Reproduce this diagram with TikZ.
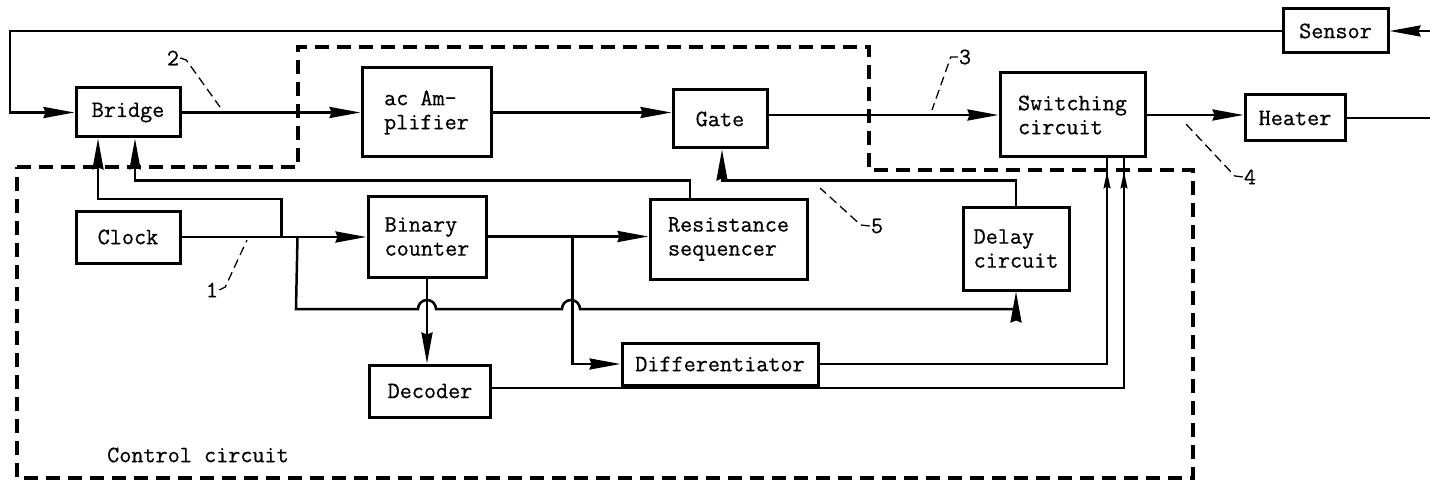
\documentclass[tikz,border=0pt]{standalone}
\usepackage{fontspec}
\newfontfamily\tw{Latin Modern Mono}[FakeBold=0.6]
\usetikzlibrary{arrows.meta,calc,decorations.markings}
\begin{document}
\begin{tikzpicture}[x=1pt,y=-1pt,
  blk/.style={draw,line width=3pt,inner sep=0pt,align=left,font=\tw\fontsize{23.5}{24}\selectfont},
  conn/.style={line width=2.5pt},
  arr/.style={conn,-{Stealth[length=31pt,width=11pt,inset=2pt]}},
  arrthin/.style={line width=1.6pt,postaction={decorate,decoration={markings,
      mark=at position -13pt with {\arrow{Stealth[length=17pt,width=7pt,inset=2pt]}}}}},
  bound/.style={line width=3.4pt,dash pattern=on 14pt off 8pt},
  lead/.style={line width=1.3pt,dash pattern=on 9pt off 5pt},
  lbl/.style={inner sep=1pt,font=\tw\fontsize{23.5}{24}\selectfont}]
\fill[white] (0,0) rectangle (1430,484);
\useasboundingbox (0,0) rectangle (1430,484);

% boundary
\draw[bound] (17,167) -- (298,167) -- (298,47) -- (869,47) -- (869,170) -- (1193,170) -- (1193,478) -- (17,478) -- cycle;
\node[lbl] (cc) at (198,455) {Control circuit};

% blocks
\node[blk,minimum width=104,minimum height=49] (bridge) at (128,112.5) {Bridge};
\node[blk,minimum width=129,minimum height=89] (amp) at (426.5,112.5) {ac Am-\\plifier};
\node[blk,minimum width=94,minimum height=58] (gate) at (720,119) {Gate};
\node[blk,minimum width=145,minimum height=84] (sw) at (1072.5,115) {Switching\\circuit};
\node[blk,minimum width=100,minimum height=46] (heater) at (1295,118) {Heater};
\node[blk,minimum width=105,minimum height=44] (sensor) at (1335.5,31) {Sensor};
\node[blk,minimum width=104,minimum height=52] (clock) at (128,237) {Clock};
\node[blk,minimum width=118,minimum height=81] (bin) at (427,236.5) {Binary\\counter};
\node[blk,minimum width=157,minimum height=80] (res) at (728.5,239) {Resistance\\sequencer};
\node[blk,minimum width=106,minimum height=83] (delay) at (1016,248.5) {Delay\\circuit};
\node[blk,minimum width=196,minimum height=42] (diff) at (720,364) {Differentiator};
\node[blk,minimum width=121,minimum height=52] (dec) at (430,391) {Decoder};

% free ends and junctions
\coordinate (sin) at (1430,31);
\coordinate (hout) at (1430,118);
\coordinate (fbk) at (10,31);
\coordinate (j1) at ([xshift=100]clock.east);
\coordinate (j2) at ([xshift=116]clock.east);
\coordinate (j3) at ([xshift=85]bin.east);

% main signal path
\draw[arr] (sin) -- (sensor.east);
\draw[arr] (sensor.west) -- (fbk) |- (bridge.west);
\draw[arr] (bridge.east) -- (amp.west);
\draw[arr] (amp.east) -- (amp.east -| gate.west);
\draw[arr] (gate.east |- sw.west) -- (sw.west);
\draw[arr] (sw.east) -- (sw.east -| heater.west);
\draw[conn] (heater.east) -- (hout);

% control circuit
\draw[arr] (clock.east) -- (clock.east -| bin.west);
\draw[arr] (j1) -- ++(0,-38) -| ([xshift=-30]bridge.south);
\draw[arr] (j2) -- (296,309) -- (418,309) arc[start angle=180,end angle=360,radius=9]
  -- (562,309) arc[start angle=180,end angle=360,radius=9] -- (delay.south |- 0,309) -- (delay.south);
\draw[arr] (bin.east) -- (bin.east -| res.west);
\draw[arr] (j3) |- (diff.west);
\draw[arr] (bin.south) -- (bin.south |- dec.north);
\draw[arr] ([xshift=-38.5]res.north) -- ++(0,-17) -| ([xshift=7]bridge.south);
\draw[arr] (delay.north) -- ++(0,-25) -| ([xshift=2]gate.south);
\draw[arrthin] (diff.east) -| ([xshift=34.5]sw.south);
\draw[arrthin] ([yshift=3]dec.east) -| ([xshift=51.5]sw.south);

% numbered leaders
\node[lbl] (l1) at (212,290) {1};
\draw[lead] (l1.east) -- ++(6,-3) -- (247,240);
\node[lbl] (l2) at (173,58) {2};
\draw[lead] (l2.east) -- ++(6,2) -- (220,107);
\node[lbl] (l3) at (965,57) {3};
\draw[lead] (l3.west) -- ++(-7,0) -- (932,110);
\node[lbl] (l4) at (1250,177) {4};
\draw[lead] (l4.west) -- ++(-8,-1) -- (1185,123);
\node[lbl] (l5) at (877,226) {5};
\draw[lead] (l5.west) -- ++(-9,-1) -- (820,188);
\end{tikzpicture}
\end{document}
